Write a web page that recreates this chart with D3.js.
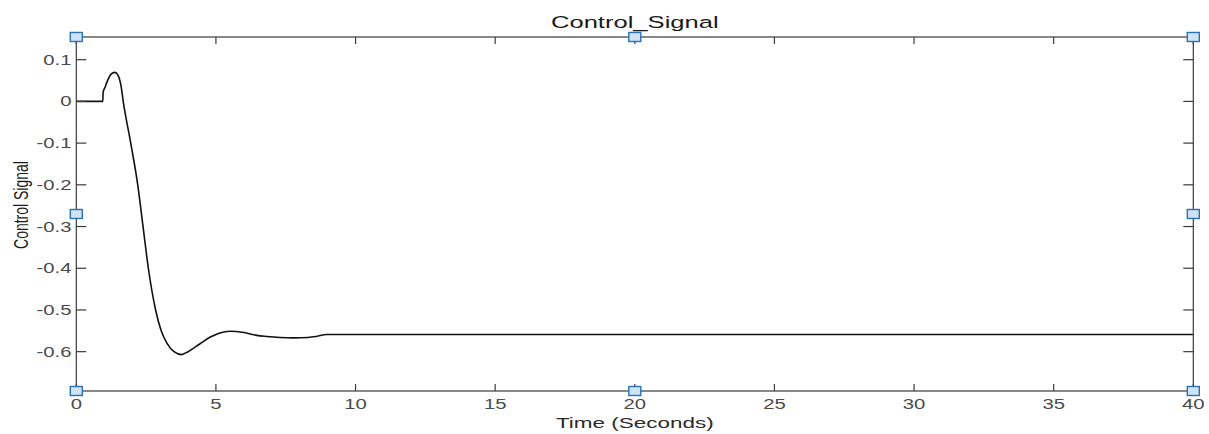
<!DOCTYPE html>
<html>
<head>
<meta charset="utf-8">
<script src="https://cdn.jsdelivr.net/npm/d3@7"></script>
<style>
  html, body { margin: 0; padding: 0; background: #fff; }
  svg { display: block; }
  text { font-family: "Liberation Sans", Arial, sans-serif; }
</style>
</head>
<body>
<svg id="chart" width="1209" height="434"></svg>
<script>
// ---- data ----
const timeValues = [0, 0.95, 0.96, 1.03, 1.09, 1.21, 1.30, 1.39, 1.50, 1.60, 1.68, 1.95, 2.20, 2.39, 2.58, 2.84, 3.04, 3.25, 3.50, 3.77, 4.00, 4.43, 4.80, 5.14, 5.50, 6.00, 6.46, 6.82, 7.30, 7.77, 8.30, 8.60, 8.96, 9.50, 12, 20, 30, 40];
const signalValues = [0, 0, 0.022, 0.034, 0.045, 0.062, 0.068, 0.0695, 0.062, 0.038, 0.0, -0.100, -0.200, -0.300, -0.400, -0.500, -0.550, -0.580, -0.600, -0.607, -0.600, -0.581, -0.565, -0.555, -0.551, -0.554, -0.561, -0.5636, -0.566, -0.567, -0.566, -0.5635, -0.559, -0.559, -0.559, -0.559, -0.559, -0.559];
const xTicks = [0, 5, 10, 15, 20, 25, 30, 35, 40];
const yTicks = [0.1, 0, -0.1, -0.2, -0.3, -0.4, -0.5, -0.6];
const yTickLabels = ["0.1", "0", "-0.1", "-0.2", "-0.3", "-0.4", "-0.5", "-0.6"];
const xDomain = [0, 40];
const yDomain = [-0.6943, 0.1544];
const titleText = "Control_Signal";
const xLabelText = "Time (Seconds)";
const yLabelText = "Control Signal";

// ---- layout ----
const L = 76.3, R = 1193.3, T = 37, B = 391;
const SX = 1.45;  // horizontal stretch for tick labels
const SX2 = 1.55; // horizontal stretch for titles
const svg = d3.select("#chart");
const x = d3.scaleLinear().domain(xDomain).range([L, R]);
const y = d3.scaleLinear().domain(yDomain).range([B, T]);
const axisColor = "#3a3a3a";
const labelColor = "#4a4a4a";

// line
const data = timeValues.map((t, i) => ({t, v: signalValues[i]}));
const line = d3.line().x(d => x(d.t)).y(d => y(d.v)).curve(d3.curveMonotoneX);
svg.append("path").datum(data)
  .attr("d", line).attr("fill", "none")
  .attr("stroke", "#111").attr("stroke-width", 1.6);

// box
svg.append("rect").attr("x", L).attr("y", T).attr("width", R - L).attr("height", B - T)
  .attr("fill", "none").attr("stroke", axisColor).attr("stroke-width", 1.2);

// x ticks (bottom & top, inward)
const xt = svg.append("g");
xTicks.forEach(v => {
  xt.append("line").attr("x1", x(v)).attr("x2", x(v)).attr("y1", B).attr("y2", B - 7)
    .attr("stroke", axisColor).attr("stroke-width", 1.2);
  xt.append("line").attr("x1", x(v)).attr("x2", x(v)).attr("y1", T).attr("y2", T + 7)
    .attr("stroke", axisColor).attr("stroke-width", 1.2);
  xt.append("text").attr("transform", `translate(${x(v)},409) scale(${SX},1)`)
    .attr("text-anchor", "middle").attr("font-size", 14).attr("fill", labelColor).text(String(v));
});

// y ticks (left & right, inward)
const yt = svg.append("g");
yTicks.forEach((v, i) => {
  yt.append("line").attr("x1", L).attr("x2", L + 10).attr("y1", y(v)).attr("y2", y(v))
    .attr("stroke", axisColor).attr("stroke-width", 1.2);
  yt.append("line").attr("x1", R).attr("x2", R - 10).attr("y1", y(v)).attr("y2", y(v))
    .attr("stroke", axisColor).attr("stroke-width", 1.2);
  yt.append("text").attr("transform", `translate(71.5,${y(v) + 5}) scale(${SX},1)`)
    .attr("text-anchor", "end").attr("font-size", 14).attr("fill", labelColor).text(yTickLabels[i]);
});

// title and labels
svg.append("text").attr("transform", `translate(${(L + R) / 2},28) scale(${SX2},1)`)
  .attr("text-anchor", "middle").attr("font-size", 16.5).attr("fill", "#1a1a1a").text(titleText);
svg.append("text").attr("transform", `translate(${(L + R) / 2},428) scale(${SX2},1)`)
  .attr("text-anchor", "middle").attr("font-size", 14.5).attr("fill", "#2a2a2a").text(xLabelText);
svg.append("text").attr("transform", `translate(28,205) scale(${SX},1) rotate(-90)`)
  .attr("text-anchor", "middle").attr("font-size", 14).attr("fill", "#1a1a1a").text(yLabelText);

// selection handles
const handles = [[L, T], [(L + R) / 2, T], [R, T], [L, (T + B) / 2], [R, (T + B) / 2], [L, B], [(L + R) / 2, B], [R, B]];
svg.append("g").selectAll("rect").data(handles).join("rect")
  .attr("x", d => d[0] - 6).attr("y", d => d[1] - 4.5).attr("width", 12).attr("height", 9)
  .attr("fill", "#cfe3f4").attr("stroke", "#2b72b5").attr("stroke-width", 1.4);
</script>
</body>
</html>
